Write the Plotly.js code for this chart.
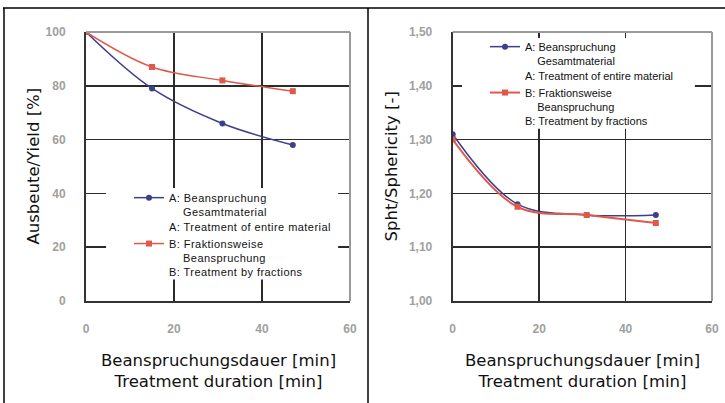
<!DOCTYPE html>
<html>
<head>
<meta charset="utf-8">
<script src="https://cdn.plot.ly/plotly-3.0.1.min.js"></script>
<style>
html,body{margin:0;padding:0;background:#fff;}
#chart{width:725px;height:403px;}
text.legendtext{letter-spacing:0.45px;}
</style>
</head>
<body>
<div id="chart"></div>
<script>
// ---- data ----
const durationMin = [0, 15, 31, 47];
const yieldA = [100, 79, 66, 58];
const yieldB = [100, 87, 82, 78];
const sphericityA = [1.31, 1.18, 1.16, 1.16];
const sphericityB = [1.30, 1.175, 1.16, 1.145];
const nameA = 'A: Beanspruchung<br>\u00a0\u00a0\u00a0\u00a0Gesamtmaterial<br>A: Treatment of entire material';
const nameB = 'B: Fraktionsweise<br>\u00a0\u00a0\u00a0\u00a0Beanspruchung<br>B: Treatment by fractions';
const xTitle = 'Beanspruchungsdauer [min]<br>Treatment duration [min]';
const yTitleLeft = 'Ausbeute/Yield [%]';
const yTitleRight = 'Spht/Sphericity [-]';

const blue = '#3c3f8c';
const red = '#e0584a';

const traces = [
  {x: durationMin, y: yieldA, name: nameA, xaxis: 'x', yaxis: 'y', legend: 'legend',
   mode: 'lines+markers', line: {color: blue, width: 1.5, shape: 'spline'},
   marker: {color: blue, size: 6, symbol: 'circle'}},
  {x: durationMin, y: yieldB, name: nameB, xaxis: 'x', yaxis: 'y', legend: 'legend',
   mode: 'lines+markers', line: {color: red, width: 1.5, shape: 'spline'},
   marker: {color: red, size: 6, symbol: 'square'}},
  {x: durationMin, y: sphericityA, name: nameA, xaxis: 'x2', yaxis: 'y2', legend: 'legend2',
   mode: 'lines+markers', line: {color: blue, width: 1.5, shape: 'spline'},
   marker: {color: blue, size: 6, symbol: 'circle'}},
  {x: durationMin, y: sphericityB, name: nameB, xaxis: 'x2', yaxis: 'y2', legend: 'legend2',
   mode: 'lines+markers', line: {color: red, width: 2, shape: 'spline'},
   marker: {color: red, size: 6, symbol: 'square'}}
];

const W = 725, H = 403;
const px = v => v / W;
const py = v => 1 - v / H;

const tickFont = {family: 'Liberation Sans, Arial, sans-serif', size: 12, color: '#a0a0a0', weight: 'bold'};
const titleFont = {family: 'DejaVu Sans, sans-serif', size: 16.5, color: '#111'};
const legendFont = {family: 'Liberation Sans, Arial, sans-serif', size: 11, color: '#111'};

function xaxisDef(domain, anchor) {
  return {domain: domain, anchor: anchor, range: [0, 60], dtick: 20, tick0: 0,
    showgrid: true, gridcolor: '#2b2b2b', gridwidth: 1.5, zeroline: false,
    showline: true, linecolor: '#333', linewidth: 2,
    ticks: 'outside', ticklen: 16, tickcolor: 'rgba(0,0,0,0)', tickfont: tickFont,
    fixedrange: true};
}
function yaxisDef(domain, anchor, range, dtick, fmt) {
  const a = {domain: domain, anchor: anchor, range: range, dtick: dtick, tick0: range[0],
    showgrid: true, gridcolor: '#2b2b2b', gridwidth: 1.5, zeroline: false,
    showline: true, linecolor: '#333', linewidth: 2,
    ticks: 'outside', ticklen: 16, tickcolor: 'rgba(0,0,0,0)', tickfont: tickFont,
    fixedrange: true};
  if (fmt) a.tickformat = fmt;
  return a;
}

const yDom = [py(301), py(32)];

const layout = {
  width: W, height: H,
  margin: {l: 0, r: 0, t: 0, b: 0},
  paper_bgcolor: '#fff', plot_bgcolor: '#fff',
  separators: ',.',
  showlegend: true,
  xaxis: xaxisDef([px(86), px(350)], 'y'),
  yaxis: yaxisDef(yDom, 'x', [0, 100], 20),
  xaxis2: xaxisDef([px(452.7), px(712)], 'y2'),
  yaxis2: yaxisDef(yDom, 'x2', [1.0, 1.5], 0.1, '.2f'),
  legend: {x: px(129), y: py(184), xanchor: 'left', yanchor: 'top',
    bgcolor: 'rgba(0,0,0,0)', font: legendFont, valign: 'top', tracegroupgap: 0},
  legend2: {x: px(485), y: py(33), xanchor: 'left', yanchor: 'top',
    bgcolor: 'rgba(0,0,0,0)', font: legendFont, valign: 'top', tracegroupgap: 0},
  shapes: [
    // white areas behind legends
    {type: 'rect', xref: 'x domain', yref: 'y domain', x0: 0.076, x1: 0.955, y0: 0.08, y1: 0.42,
     fillcolor: '#fff', line: {width: 0}, layer: 'above'},
    {type: 'rect', xref: 'x2 domain', yref: 'y2 domain', x0: 0.036, x1: 0.934, y0: 0.64, y1: 0.978,
     fillcolor: '#fff', line: {width: 0}, layer: 'above'},
    // top/right plot borders (lighter)
    {type: 'line', xref: 'x domain', yref: 'y domain', x0: 0, x1: 1, y0: 1, y1: 1, line: {color: '#9a9a9a', width: 2}, layer: 'above'},
    {type: 'line', xref: 'x domain', yref: 'y domain', x0: 1, x1: 1, y0: 0, y1: 1, line: {color: '#9a9a9a', width: 2}, layer: 'above'},
    {type: 'line', xref: 'x2 domain', yref: 'y2 domain', x0: 0, x1: 1, y0: 1, y1: 1, line: {color: '#9a9a9a', width: 2}, layer: 'above'},
    {type: 'line', xref: 'x2 domain', yref: 'y2 domain', x0: 1, x1: 1, y0: 0, y1: 1, line: {color: '#9a9a9a', width: 2}, layer: 'above'},
    // outer frame
    {type: 'line', xref: 'paper', yref: 'paper', x0: px(3), x1: 1, y0: py(8), y1: py(8), line: {color: '#000', width: 1.5}},
    {type: 'line', xref: 'paper', yref: 'paper', x0: px(4), x1: px(4), y0: 0, y1: py(8), line: {color: '#000', width: 1.5}},
    {type: 'line', xref: 'paper', yref: 'paper', x0: px(368), x1: px(368), y0: 0, y1: py(8), line: {color: '#000', width: 1.5}}
  ],
  annotations: [
    {text: xTitle, xref: 'x domain', yref: 'paper', x: 0.5, y: py(349), xanchor: 'center', yanchor: 'top',
     showarrow: false, font: titleFont, align: 'center'},
    {text: xTitle, xref: 'x2 domain', yref: 'paper', x: 0.5, y: py(349), xanchor: 'center', yanchor: 'top',
     showarrow: false, font: titleFont, align: 'center'},
    {text: yTitleLeft, xref: 'paper', yref: 'y domain', x: px(33), y: 0.5, xanchor: 'center', yanchor: 'middle',
     textangle: -90, showarrow: false, font: titleFont},
    {text: yTitleRight, xref: 'paper', yref: 'y2 domain', x: px(391), y: 0.5, xanchor: 'center', yanchor: 'middle',
     textangle: -90, showarrow: false, font: titleFont}
  ]
};

Plotly.newPlot('chart', traces, layout, {displayModeBar: false, staticPlot: true});
</script>
</body>
</html>
